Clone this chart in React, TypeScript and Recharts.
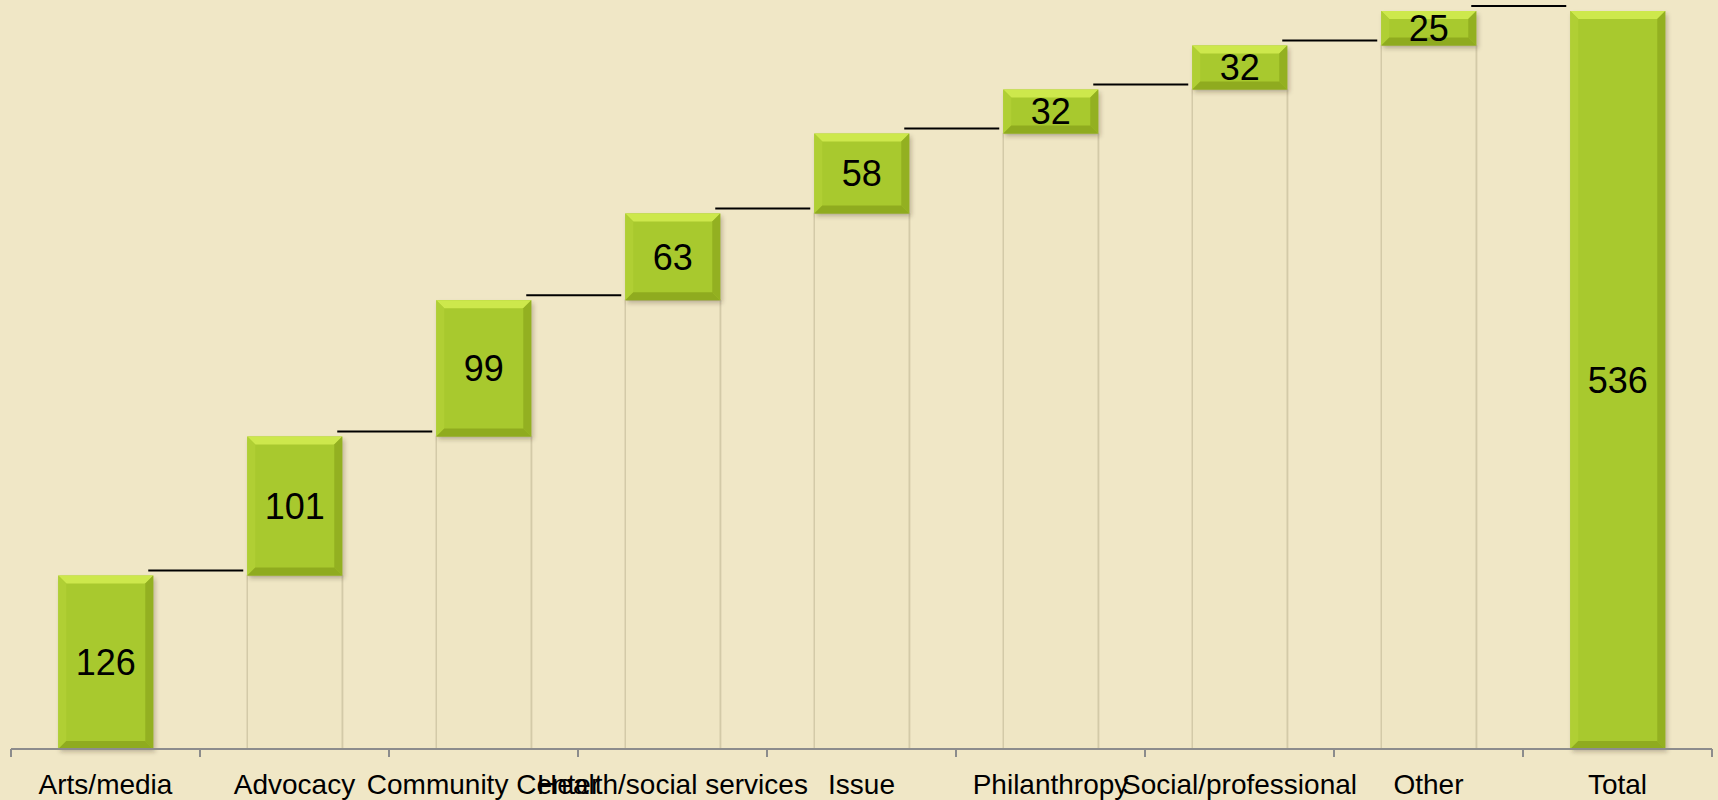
import React from 'react';
import { BarChart, Bar, XAxis, YAxis, LabelList } from 'recharts';

const categories = ['Arts/media', 'Advocacy', 'Community Center', 'Health/social services', 'Issue', 'Philanthropy', 'Social/professional', 'Other', 'Total'];
const values = [126, 101, 99, 63, 58, 32, 32, 25, 536];
const totalFlags = [false, false, false, false, false, false, false, false, true];

const data = (() => {
  let run = 0;
  return categories.map((name, i) => {
    const base = totalFlags[i] ? 0 : run;
    if (!totalFlags[i]) run += values[i];
    return { name, base, value: values[i] };
  });
})();

const BG = '#F0E7C6';
const FONT = '"Liberation Sans", Arial, sans-serif';
const AXIS = '#8c8c8c';

const BaseBar = (props: any) => {
  const { x, y, width, height } = props;
  if (!height || height <= 0) return null;
  return (
    <g>
      <rect x={x + 1.5} y={y} width={width} height={height} fill="#d8cfae" opacity={0.6} />
      <rect x={x} y={y} width={width} height={height} fill="#EFE6C4" stroke="#d3caa8" strokeWidth={1.5} />
    </g>
  );
};

const GreenBar = (props: any) => {
  const { x, y, width, height, index } = props;
  const b = Math.min(8, height / 3);
  const last = index >= categories.length - 1;
  return (
    <g>
      <rect x={x + 2} y={y + 3} width={width} height={height} fill="rgba(60,50,20,0.28)" filter="url(#softShadow)" />
      <rect x={x} y={y} width={width} height={height} fill="#A8C92E" />
      <polygon points={`${x},${y} ${x + width},${y} ${x + width - b},${y + b} ${x + b},${y + b}`} fill="#CDE84C" />
      <polygon points={`${x},${y} ${x + b},${y + b} ${x + b},${y + height - b} ${x},${y + height}`} fill="#B0CF34" />
      <polygon points={`${x + width},${y} ${x + width - b},${y + b} ${x + width - b},${y + height - b} ${x + width},${y + height}`} fill="#93B021" />
      <polygon points={`${x},${y + height} ${x + b},${y + height - b} ${x + width - b},${y + height - b} ${x + width},${y + height}`} fill="#8FAB1F" />
      {!last && (
        <line x1={x + width - 5} x2={x + 2 * width - 5} y1={y - 5} y2={y - 5} stroke="#000" strokeWidth={2} />
      )}
    </g>
  );
};

const CatTick = (props: any) => {
  const { x, y, payload, index } = props;
  const half = payload && typeof payload.offset === 'number' ? payload.offset : 0;
  const isLast = index === categories.length - 1;
  return (
    <g>
      {half > 0 && <line x1={x - half} x2={x - half} y1={y} y2={y + 8} stroke={AXIS} strokeWidth={2} />}
      {half > 0 && isLast && <line x1={x + half} x2={x + half} y1={y} y2={y + 8} stroke={AXIS} strokeWidth={2} />}
      <text x={x} y={y} dy={45} textAnchor="middle" fontSize={28} fontFamily={FONT} fill="#000">
        {payload.value}
      </text>
    </g>
  );
};

export default function App() {
  return (
    <div style={{ position: 'absolute', left: 0, top: 0, width: 1718, height: 800, background: BG }}>
      <BarChart
        width={1718}
        height={800}
        data={data}
        margin={{ top: 11, right: 6, bottom: 0, left: 11 }}
        barCategoryGap="25%"
      >
        <defs>
          <filter id="softShadow" x="-20%" y="-20%" width="140%" height="140%">
            <feGaussianBlur stdDeviation="2" />
          </filter>
        </defs>
        <XAxis
          dataKey="name"
          height={51}
          axisLine={{ stroke: AXIS, strokeWidth: 2 }}
          tickLine={false}
          tickSize={0}
          tickMargin={0}
          interval={0}
          tick={<CatTick />}
        />
        <YAxis hide domain={[0, 536]} />
        <Bar dataKey="base" stackId="w" shape={<BaseBar />} isAnimationActive={false} />
        <Bar dataKey="value" stackId="w" shape={<GreenBar />} isAnimationActive={false}>
          <LabelList dataKey="value" position="center" fontSize={36} fontFamily={FONT} fill="#000" />
        </Bar>
      </BarChart>
    </div>
  );
}
